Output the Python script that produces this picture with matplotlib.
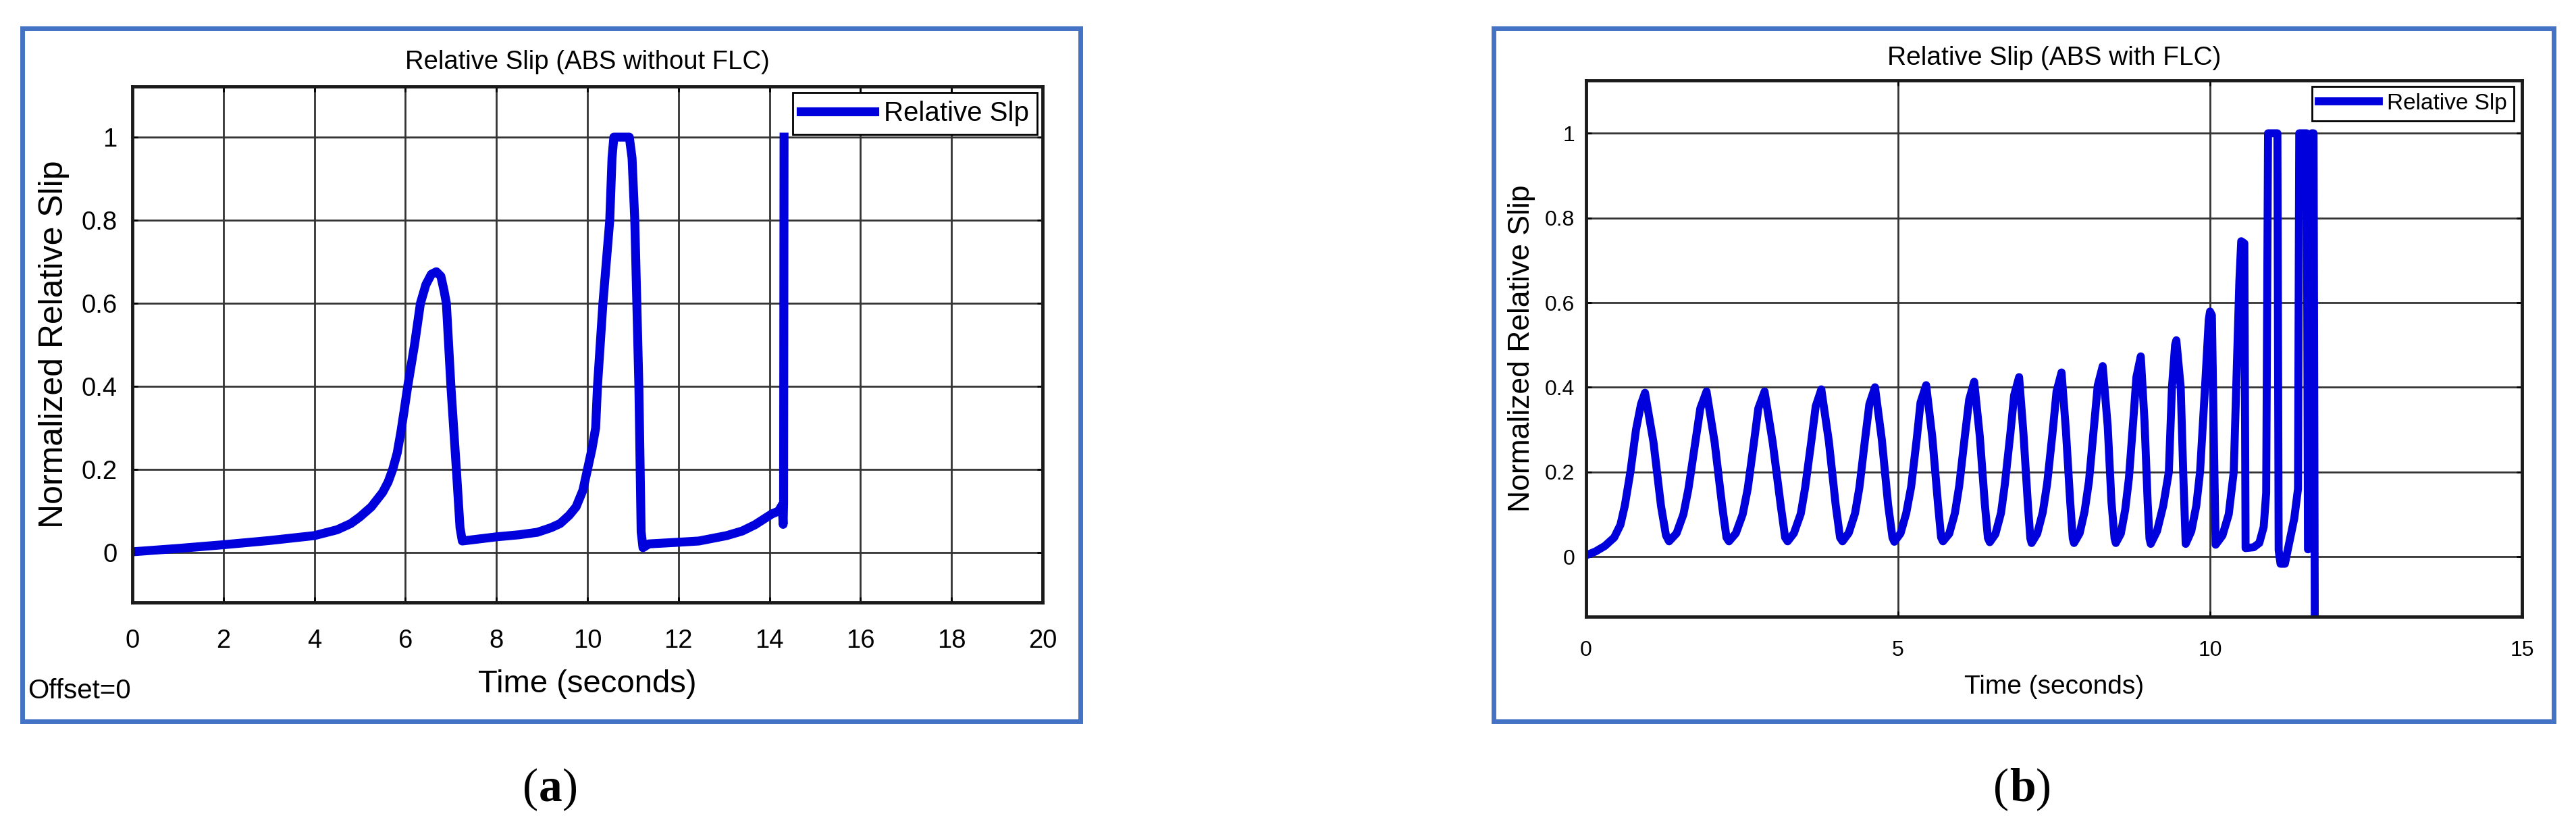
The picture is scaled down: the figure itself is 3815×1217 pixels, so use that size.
import matplotlib.pyplot as plt
from matplotlib.patches import Rectangle

# (a) relative slip, ABS without FLC
t_abs = [0, 1, 2, 3, 4, 4.5, 4.8, 5.0, 5.25, 5.5, 5.62, 5.72, 5.82, 5.9, 5.97, 6.05, 6.2, 6.33, 6.45, 6.57, 6.68,
         6.78, 6.85, 6.9, 7.0, 7.12, 7.2, 7.25,
         7.4, 8.0, 8.5, 8.9, 9.2, 9.4, 9.6, 9.75, 9.9, 10.0, 10.1, 10.18, 10.22, 10.34, 10.49, 10.54, 10.58,
         10.75, 10.92, 10.98, 11.04, 11.13, 11.18, 11.22,
         11.35, 12.0, 12.45, 13.06, 13.4, 13.68, 14.05, 14.2, 14.28, 14.3, 14.31, 14.32]
slip_abs = [0.002, 0.01, 0.019, 0.029, 0.041, 0.055, 0.07, 0.086, 0.11, 0.145, 0.17, 0.2, 0.24, 0.29, 0.34, 0.4, 0.5, 0.6, 0.645, 0.67, 0.676,
            0.665, 0.63, 0.6, 0.4, 0.2, 0.06, 0.028,
            0.03, 0.038, 0.043, 0.049, 0.06, 0.07, 0.09, 0.11, 0.15, 0.2, 0.25, 0.3, 0.4, 0.6, 0.8, 0.95, 1.0,
            1.0, 1.0, 0.95, 0.8, 0.4, 0.05, 0.012,
            0.021, 0.025, 0.028, 0.041, 0.052, 0.067, 0.093, 0.1, 0.115, 0.068, 0.12, 1.0]

# (b) relative slip, ABS with FLC
t_flc = [0.0, 0.15, 0.3, 0.45, 0.55, 0.62, 0.71, 0.8, 0.88, 0.944,
         1.08, 1.2, 1.28, 1.33, 1.45, 1.56, 1.64, 1.75, 1.83, 1.93,
         2.06, 2.18, 2.25, 2.29, 2.40, 2.51, 2.59, 2.69, 2.76, 2.86,
         2.99, 3.12, 3.19, 3.23, 3.33, 3.44, 3.51, 3.61, 3.68, 3.77,
         3.89, 4.00, 4.07, 4.11, 4.21, 4.31, 4.38, 4.47, 4.54, 4.63,
         4.74, 4.84, 4.91, 4.94, 5.04, 5.13, 5.21, 5.30, 5.36, 5.45,
         5.55, 5.64, 5.69, 5.72, 5.82, 5.91, 5.98, 6.07, 6.14, 6.22,
         6.31, 6.39, 6.44, 6.47, 6.56, 6.65, 6.71, 6.80, 6.86, 6.94,
         7.01, 7.08, 7.12, 7.14, 7.23, 7.32, 7.39, 7.48, 7.54, 7.62,
         7.69, 7.76, 7.80, 7.82, 7.91, 7.99, 8.06, 8.14, 8.20, 8.28,
         8.36, 8.42, 8.47, 8.49, 8.57, 8.64, 8.70, 8.77, 8.82, 8.89,
         8.95, 9.00, 9.03, 9.05, 9.15, 9.25, 9.34, 9.39, 9.44, 9.46,
         9.53, 9.57, 9.61, 9.70, 9.78, 9.84, 9.92, 9.98, 10.0,
         10.03, 10.07, 10.09, 10.2, 10.3, 10.38, 10.42, 10.47, 10.5, 10.55,
         10.57, 10.7, 10.79, 10.86, 10.9, 10.93, 11.08, 11.1, 11.13, 11.2,
         11.28, 11.35, 11.41, 11.43, 11.55, 11.57, 11.61, 11.63, 11.66, 11.68]
slip_flc = [0.003, 0.012, 0.025, 0.045, 0.075, 0.12, 0.2, 0.3, 0.36, 0.387,
            0.27, 0.12, 0.05, 0.036, 0.055, 0.10, 0.16, 0.27, 0.35, 0.39,
            0.27, 0.12, 0.045, 0.036, 0.055, 0.10, 0.16, 0.27, 0.35, 0.39,
            0.27, 0.12, 0.045, 0.036, 0.055, 0.101, 0.162, 0.273, 0.355, 0.395,
            0.273, 0.122, 0.045, 0.036, 0.056, 0.102, 0.163, 0.276, 0.36, 0.40,
            0.276, 0.123, 0.045, 0.035, 0.055, 0.102, 0.165, 0.279, 0.364, 0.405,
            0.28, 0.124, 0.045, 0.036, 0.054, 0.102, 0.167, 0.284, 0.371, 0.413,
            0.284, 0.125, 0.044, 0.034, 0.053, 0.103, 0.169, 0.291, 0.381, 0.424,
            0.29, 0.125, 0.043, 0.032, 0.054, 0.105, 0.173, 0.298, 0.39, 0.435,
            0.298, 0.127, 0.043, 0.032, 0.055, 0.107, 0.178, 0.308, 0.404, 0.45,
            0.308, 0.13, 0.043, 0.032, 0.054, 0.11, 0.185, 0.322, 0.424, 0.473,
            0.32, 0.13, 0.042, 0.03, 0.06, 0.12, 0.2, 0.4, 0.5, 0.511,
            0.4, 0.2, 0.03, 0.06, 0.12, 0.2, 0.4, 0.56, 0.579,
            0.57, 0.2, 0.028, 0.05, 0.1, 0.2, 0.4, 0.65, 0.745, 0.74,
            0.02, 0.022, 0.032, 0.07, 0.15, 1.0, 1.0, 0.015, -0.017, -0.017,
            0.04, 0.09, 0.16, 1.0, 1.0, 0.017, 0.02, 1.0, 1.0, -0.2]

xticks_abs = [0, 2, 4, 6, 8, 10, 12, 14, 16, 18, 20]
xticks_flc = [0, 5, 10, 15]
yticks = [0, 0.2, 0.4, 0.6, 0.8, 1]
ytick_labels = ["0", "0.2", "0.4", "0.6", "0.8", "1"]

LINE_BLUE = "#0000dc"
FRAME_BLUE = "#4472c4"
W, H = 3816, 1217

plt.rcParams["font.family"] = ["Liberation Sans", "DejaVu Sans"]


def style_panel(ax, title, xticks, xlim, ylim, fs, title_y, xlabel_y, ylabel_x, xpad, ypad, legend_anchor, hlen):
    ax.set_xlim(*xlim)
    ax.set_ylim(*ylim)
    ax.set_xticks(xticks)
    ax.set_xticklabels([str(v) for v in xticks])
    ax.set_yticks(yticks)
    ax.set_yticklabels(ytick_labels)
    ax.set_axisbelow(True)
    ax.grid(True, color="#333333", linewidth=2.0)
    ax.tick_params(direction="in", top=True, right=True, length=6, width=2, labelsize=fs["tick"])
    ax.tick_params(axis="x", pad=xpad)
    ax.tick_params(axis="y", pad=ypad)
    for sp in ax.spines.values():
        sp.set_linewidth(3.5)
        sp.set_color("#1a1a1a")
    ax.set_title(title, fontsize=fs["title"], y=title_y, pad=0, va="center")
    ax.set_xlabel("Time (seconds)", fontsize=fs["xlabel"])
    ax.xaxis.set_label_coords(0.5, xlabel_y)
    ax.xaxis.label.set_va("center")
    ax.set_ylabel("Normalized Relative Slip", fontsize=fs["ylabel"])
    ax.yaxis.set_label_coords(ylabel_x, 0.5)
    ax.yaxis.label.set_va("center")
    leg = ax.legend(loc="upper right", bbox_to_anchor=legend_anchor, borderaxespad=0,
                    fontsize=fs["legend"], fancybox=False, framealpha=1, edgecolor="black",
                    borderpad=0.3, handlelength=hlen, handletextpad=0.35)
    leg.get_frame().set_linewidth(2.0)


fig = plt.figure(figsize=(W / 100, H / 100), dpi=100)

ax_a = fig.add_axes([196 / W, 1 - 892 / H, 1348 / W, 764 / H])
ax_a.plot(t_abs, slip_abs, color=LINE_BLUE, linewidth=9.5, label="Relative Slp")
style_panel(ax_a, "Relative Slip (ABS without FLC)", xticks_abs, (0, 20), (-0.12, 1.122),
            {"tick": 27.5, "title": 27.5, "xlabel": 34, "ylabel": 36, "legend": 29},
            title_y=1.047, xlabel_y=-0.158, ylabel_x=-0.086, xpad=28, ypad=16,
            legend_anchor=(0.994, 0.988), hlen=2.7)

ax_b = fig.add_axes([2349 / W, 1 - 913 / H, 1386 / W, 794 / H])
ax_b.plot(t_flc, slip_flc, color=LINE_BLUE, linewidth=8.5, label="Relative Slp")
style_panel(ax_b, "Relative Slip (ABS with FLC)", xticks_flc, (0, 15), (-0.142, 1.125),
            {"tick": 23, "title": 28, "xlabel": 28, "ylabel": 32, "legend": 24},
            title_y=1.042, xlabel_y=-0.131, ylabel_x=-0.069, xpad=25, ypad=12,
            legend_anchor=(0.991, 0.989), hlen=2.67)

# blue frames round each panel
for x0, x1 in [(33, 1600), (2212, 3782)]:
    fig.add_artist(Rectangle((x0 / W, 1 - 1068 / H), (x1 - x0) / W, 1026 / H,
                             transform=fig.transFigure, fill=False,
                             edgecolor=FRAME_BLUE, linewidth=5))

fig.text(41 / W, 1 - 1023 / H, "Offset=0", fontsize=29, ha="left", va="center")

# sub-figure captions: regular parentheses, bold letter
for cx, letter, half in [(815, "a", 17.5), (2995, "b", 19.5)]:
    y = 1 - 1169 / H
    fig.text(cx / W, y, letter, fontsize=50, family="Liberation Serif", weight="bold", ha="center", va="center")
    fig.text((cx - half) / W, y, "(", fontsize=50, family="Liberation Serif", ha="right", va="center")
    fig.text((cx + half) / W, y, ")", fontsize=50, family="Liberation Serif", ha="left", va="center")

fig.savefig("out.png", dpi=100)
